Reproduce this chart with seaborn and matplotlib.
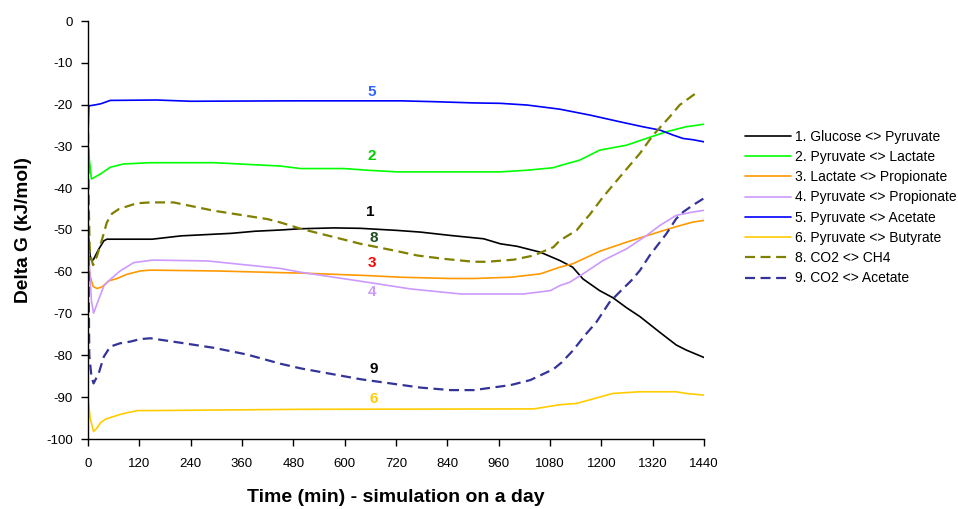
import matplotlib
matplotlib.use("Agg")
import matplotlib.pyplot as plt
import pandas as pd
import seaborn as sns

# Delta G (kJ/mol) per reaction, time in minutes
REACTIONS = [
    "1. Glucose <> Pyruvate",
    "2. Pyruvate <> Lactate",
    "3. Lactate <> Propionate",
    "4. Pyruvate <> Propionate",
    "5. Pyruvate <> Acetate",
    "6. Pyruvate <> Butyrate",
    "8. CO2 <> CH4",
    "9. CO2 <> Acetate",
]
COLORS = ["#000000", "#00FF00", "#FF9900", "#CC99FF", "#0000FF", "#FFCC00", "#808000", "#333399"]

t1 = [0, 3, 5, 9, 13, 25, 37, 44, 150, 218, 335, 390, 450, 497, 575, 637, 723, 777, 847, 925,
      964, 1003, 1057, 1103, 1133, 1157, 1196, 1227, 1259, 1290, 1337, 1375, 1398, 1440]
g1 = [-50, -54, -56.2, -57.4, -57, -54.6, -52.6, -52.2, -52.2, -51.4, -50.8, -50.3, -50, -49.7,
      -49.5, -49.6, -50.1, -50.5, -51.3, -52.1, -53.3, -53.9, -55.3, -57.3, -58.9, -61.7, -64.5,
      -66.2, -68.6, -70.7, -74.5, -77.5, -78.7, -80.5]

t2 = [0, 3, 8, 15, 29, 52, 83, 146, 295, 450, 497, 598, 653, 723, 964, 1026, 1088, 1103, 1149,
      1196, 1259, 1305, 1352, 1398, 1440]
g2 = [-29.4, -33, -37.8, -37.4, -36.6, -35, -34.2, -33.9, -33.9, -34.7, -35.3, -35.3, -35.7,
      -36.1, -36.1, -35.7, -35.1, -34.6, -33.3, -30.9, -29.7, -28.1, -26.5, -25.3, -24.7]

t3 = [0, 5, 12, 21, 33, 48, 68, 91, 122, 146, 300, 450, 497, 653, 731, 847, 902, 988, 1057,
      1103, 1133, 1196, 1259, 1321, 1375, 1414, 1440]
g3 = [-57, -61, -63.5, -64, -63.6, -62.2, -61.6, -60.6, -59.8, -59.6, -59.8, -60.2, -60.3, -60.9,
      -61.3, -61.6, -61.6, -61.3, -60.5, -58.9, -58.1, -55.1, -52.9, -50.9, -49.2, -48.1, -47.7]

t4 = [0, 4, 8, 13, 25, 37, 48, 75, 107, 151, 279, 450, 497, 653, 754, 871, 1018, 1081, 1103,
      1126, 1157, 1204, 1259, 1306, 1337, 1375, 1414, 1440]
g4 = [-51, -60, -67, -69.9, -66.6, -63.4, -62.2, -59.8, -57.8, -57.2, -57.4, -59.2, -60.1, -62.5,
      -64.1, -65.3, -65.3, -64.5, -63.3, -62.5, -60.5, -57.3, -54.5, -51.3, -48.9, -46.5, -45.7,
      -45.3]

t5 = [0, 2, 15, 30, 52, 160, 240, 480, 731, 809, 902, 964, 1026, 1088, 1103, 1173, 1243, 1297,
      1337, 1368, 1391, 1414, 1440]
g5 = [-26, -20.3, -20.1, -19.8, -19, -18.9, -19.2, -19.1, -19.1, -19.3, -19.6, -19.7, -20.1,
      -20.9, -21.1, -22.5, -24.1, -25.3, -26.1, -27.3, -28.1, -28.4, -28.9]

t6 = [0, 5, 13, 20, 30, 42, 79, 116, 146, 497, 1042, 1103, 1142, 1227, 1290, 1375, 1398, 1440]
g6 = [-90, -95, -98.2, -97.5, -96, -95.2, -94, -93.2, -93.2, -92.9, -92.8, -91.8, -91.5, -89.1,
      -88.7, -88.7, -89.1, -89.5]

t8 = [0, 2, 4, 8, 12, 21, 33, 44, 56, 72, 114, 146, 200, 295, 420, 450, 497, 575, 637, 715, 770,
      832, 902, 933, 995, 1042, 1088, 1103, 1142, 1161, 1173, 1204, 1250, 1290, 1321, 1360, 1383,
      1422]
g8 = [-23, -45, -55, -57, -58.4, -56.2, -52.2, -48.2, -46.1, -45, -43.6, -43.4, -43.4, -45.4,
      -47.4, -48.2, -49.7, -51.7, -53.3, -54.9, -56.1, -56.9, -57.6, -57.6, -57.1, -56.1, -54.1,
      -52.5, -50.1, -47.7, -46.3, -42.1, -36.5, -31.7, -27.3, -22.9, -20.1, -17.2]

t9 = [0, 3, 8, 13, 25, 37, 52, 75, 99, 122, 146, 218, 295, 372, 450, 497, 637, 777, 847, 902,
      988, 1034, 1088, 1107, 1133, 1164, 1188, 1219, 1246, 1270, 1290, 1313, 1352, 1375, 1391,
      1415, 1440]
g9 = [-45, -80, -85, -86.7, -84.3, -80.3, -77.9, -77.1, -76.7, -76.1, -75.9, -77, -78.2, -79.8,
      -82, -83.1, -85.7, -87.7, -88.3, -88.3, -87.1, -85.9, -83.3, -81.7, -78.9, -74.9, -72.1,
      -67.3, -64.5, -62.1, -59.7, -56.1, -50.9, -47.3, -45.7, -44, -42.4]

# curve numbers written on the chart
label_text = ["5", "2", "1", "8", "3", "4", "9", "6"]
label_t = [664, 664, 660, 668, 664, 664, 668, 668]
label_dg = [-16.9, -32.4, -45.6, -51.9, -57.9, -64.8, -83.3, -90.5]
label_colors = ["#3366FF", "#00CC00", "#000000", "#1F4F1F", "#FF0000", "#CC99FF", "#000000", "#FFCC00"]

series = [(t1, g1), (t2, g2), (t3, g3), (t4, g4), (t5, g5), (t6, g6), (t8, g8), (t9, g9)]
df = pd.concat(
    [pd.DataFrame({"time": t, "dG": g, "reaction": name}) for name, (t, g) in zip(REACTIONS, series)],
    ignore_index=True,
)

sns.set_theme(style="white")
plt.rcParams["font.family"] = ["Liberation Sans", "DejaVu Sans"]
plt.rcParams["axes.unicode_minus"] = False  # plain hyphen like the original
for key in ("text.color", "axes.labelcolor", "xtick.color", "ytick.color"):
    plt.rcParams[key] = "black"

fig = plt.figure(figsize=(9.58, 5.09), dpi=100)
ax = fig.add_axes([88 / 958, 1 - 439 / 509, 616 / 958, 418 / 509])

dashes = {name: ("" if name[0] not in "89" else (4.5, 2.5)) for name in REACTIONS}
sns.lineplot(
    data=df, x="time", y="dG", hue="reaction", style="reaction",
    hue_order=REACTIONS, style_order=REACTIONS,
    palette=dict(zip(REACTIONS, COLORS)), dashes=dashes,
    sort=False, estimator=None, legend=False, ax=ax,
)
for name, line in zip(REACTIONS, ax.lines):
    line.set_linewidth(1.6 if name[0] in "89" else 1.2)

for txt, t, g, c in zip(label_text, label_t, label_dg, label_colors):
    ax.text(t, g, txt, color=c, ha="center", va="center", fontsize=11, fontweight="bold")

ax.set_xlim(0, 1440)
ax.set_ylim(-100, 0)
ax.set_xticks(range(0, 1441, 120))
ax.set_yticks(range(-100, 1, 10))
ax.tick_params(axis="both", direction="out", length=5, width=1, color="black",
               labelcolor="black", labelsize=9.5, bottom=True, left=True)
ax.tick_params(axis="x", pad=9)
ax.tick_params(axis="y", pad=6)
sns.despine(ax=ax)
for side in ("left", "bottom"):
    ax.spines[side].set_color("black")
    ax.spines[side].set_linewidth(1)

ax.set_xlabel("Time (min) - simulation on a day", fontsize=14, fontweight="bold", labelpad=13)
ax.set_ylabel("Delta G (kJ/mol)", fontsize=13.8, fontweight="bold", labelpad=10)

fig.legend(
    handles=ax.lines, labels=REACTIONS, loc="center left",
    bbox_to_anchor=(745 / 958, 1 - 207.5 / 509), frameon=False, fontsize=10,
    handlelength=3.3, handletextpad=0.3, labelspacing=0.45, borderpad=0, borderaxespad=0,
)

fig.savefig("out.png", dpi=100)
